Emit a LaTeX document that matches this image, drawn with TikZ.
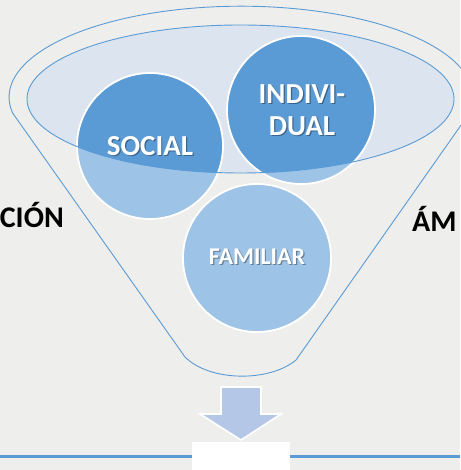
\documentclass[tikz,border=0pt]{standalone}
\usepackage{fontspec}
\setmainfont{Carlito}
\definecolor{bgc}{HTML}{EEEEEC}
\definecolor{dkblue}{HTML}{5B9BD5}
\definecolor{ltblue}{HTML}{9DC3E6}
\definecolor{ellfill}{HTML}{DCE5EF}
\definecolor{arrfill}{HTML}{B4C7E7}
\begin{document}
\begin{tikzpicture}[x=1pt,y=1pt,
  outline/.style={draw=dkblue,line width=0.9pt},
  bubble/.style={circle,minimum size=#1,inner sep=0pt},
  bubtext/.style={text=white,align=center},
  shadowtext/.style={text=black,opacity=0.35,align=center},
  sidetext/.style={text=black,font=\bfseries\fontsize{30}{32}\selectfont}]
\useasboundingbox (0,0) rectangle (460,470);
\fill[bgc] (0,0) rectangle (460,470);
% funnel
\draw[outline] (185,113) -- (12.6,357) arc[start angle=190,end angle=-10,x radius=232pt,y radius=91pt]
  -- (296,110) .. controls (270,88) and (210,88) .. (185,113);
% inner ellipse
\fill[ellfill] (240.5,371) ellipse[x radius=213.5pt,y radius=74pt];
% circles (light base)
\node[bubble=146pt,fill=ltblue] (soc) at (150,324) {};
\node[bubble=148pt,fill=ltblue] (ind) at (301,360) {};
\node[bubble=148pt,fill=ltblue] (fam) at (257,212) {};
% dark part inside ellipse
\begin{scope}
  \clip (240.5,371) ellipse[x radius=213.5pt,y radius=74pt];
  \fill[dkblue] (soc.center) circle[radius=73pt];
  \fill[dkblue] (ind.center) circle[radius=74pt];
\end{scope}
\draw[white,line width=1.8pt] (soc.center) circle[radius=73pt];
\draw[white,line width=1.8pt] (ind.center) circle[radius=74pt];
\draw[white,line width=1.8pt] (fam.center) circle[radius=74pt];
\draw[outline] (240.5,371) ellipse[x radius=213.5pt,y radius=74pt];
% texts
\node[shadowtext,font=\bfseries\fontsize{29}{32}\selectfont] (ssoc) at (151.2,322.8) {SOCIAL};
\node[bubtext,font=\bfseries\fontsize{29}{32}\selectfont] (tsoc) at (150,324) {SOCIAL};
\node[shadowtext,font=\bfseries\fontsize{29}{32}\selectfont] (sind) at (303.2,358.8) {INDIVI-\\DUAL};
\node[bubtext,font=\bfseries\fontsize{29}{32}\selectfont] (tind) at (302,360) {INDIVI-\\DUAL};
\node[shadowtext,font=\bfseries\fontsize{24}{26}\selectfont] (sfam) at (258.2,211.8) {FAMILIAR};
\node[bubtext,font=\bfseries\fontsize{24}{26}\selectfont] (tfam) at (257,213) {FAMILIAR};
\node[sidetext,anchor=east,inner sep=0pt] (lt) at (64,255) {CIÓN};
\node[sidetext,anchor=west,inner sep=0pt] (rt) at (412,251) {ÁM};
% arrow
\node[coordinate] (tip) at (241,30) {};
\draw[white,line width=1.6pt,fill=arrfill] (221,83) -- (261,83) -- (261,56) -- (281,56) -- (tip) -- (200,56) -- (221,56) -- cycle;
% bottom line and white box
\draw[dkblue,line width=3pt] (0,13) -- (460,13);
\fill[white] (192,0) rectangle (290,28);
\end{tikzpicture}
\end{document}
